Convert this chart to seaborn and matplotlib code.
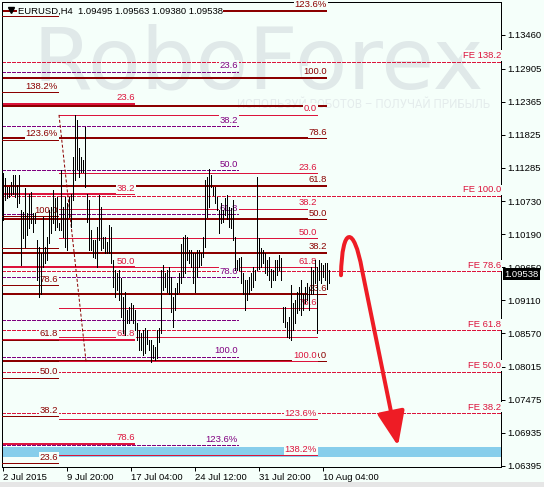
import pandas as pd
import seaborn as sns
import matplotlib.pyplot as plt
from matplotlib.path import Path
from matplotlib.patches import FancyArrowPatch, Rectangle

# H4 bars, 2 Jul 2015 12:00 onwards (high / low)
highs = [1.1120, 1.1111, 1.1096, 1.1096, 1.1105, 1.1116, 1.1116, 1.1100, 1.1116, 1.1059,
         1.1055, 1.1095, 1.1054, 1.1086, 1.1088, 1.1054, 1.1054, 1.1009, 1.0998, 1.0988,
         1.1047, 1.0998, 1.1014, 1.1059, 1.1064, 1.1091, 1.1078, 1.1080, 1.1037, 1.1124,
         1.1064, 1.1080, 1.1070, 1.1080, 1.1086, 1.1146, 1.1214, 1.1206, 1.1160, 1.1146,
         1.1141, 1.1195, 1.1086, 1.1075, 1.1026, 1.1009, 1.1009, 1.1031, 1.1083, 1.1064,
         1.1014, 1.1014, 1.1006, 1.1034, 1.1031, 1.0977, 1.0960, 1.0955, 1.0960, 1.0947,
         1.0916, 1.0924, 1.0895, 1.0900, 1.0906, 1.0903, 1.0895, 1.0873, 1.0862, 1.0857,
         1.0862, 1.0865, 1.0862, 1.0845, 1.0845, 1.0837, 1.0834, 1.0862, 1.0865, 1.0960,
         1.0968, 1.0955, 1.0960, 1.0965, 1.0949, 1.0916, 1.0931, 1.0939, 1.0955, 1.1004,
         1.1014, 1.1018, 1.1014, 1.0993, 1.0993, 1.0988, 1.0988, 1.0993, 1.0993, 1.0988,
         1.1014, 1.1108, 1.1113, 1.1127, 1.1116, 1.1096, 1.1096, 1.1080, 1.1059, 1.1070,
         1.1059, 1.1078, 1.1083, 1.1064, 1.1062, 1.1075, 1.1014, 1.0977, 1.0980, 1.0982,
         1.0955, 1.0944, 1.0944, 1.0949, 1.0955, 1.0965, 1.0960, 1.1113, 1.1013, 1.0996,
         1.0993, 1.0988, 1.0977, 1.0982, 1.0963, 1.0960, 1.0977, 1.0977, 1.0985, 1.0980,
         1.0900, 1.0900, 1.0875, 1.0883, 1.0936, 1.0906, 1.0911, 1.0924, 1.0932, 1.0944,
         1.0922, 1.0932, 1.0939, 1.0932, 1.0965, 1.0960, 1.0977, 1.0965, 1.0977, 1.0972,
         1.0968, 1.0972, 1.0972, 1.0960]
lows = [1.1042, 1.1075, 1.1078, 1.1080, 1.1083, 1.1086, 1.1080, 1.1064, 1.1070, 1.0969,
        1.1013, 1.0998, 1.1018, 1.1029, 1.1037, 1.1023, 1.1037, 1.0944, 1.0916, 1.0922,
        1.0965, 1.0972, 1.0977, 1.1005, 1.1021, 1.1037, 1.1026, 1.1031, 1.1026, 1.1026,
        1.1014, 1.0998, 1.0993, 1.1047, 1.1031, 1.1075, 1.1108, 1.1127, 1.1113, 1.1121,
        1.1121, 1.1096, 1.1039, 1.0993, 1.0993, 1.0982, 1.0980, 1.0965, 1.1009, 1.0993,
        1.0996, 1.0988, 1.0988, 1.0988, 1.0972, 1.0932, 1.0916, 1.0927, 1.0911, 1.0883,
        1.0857, 1.0854, 1.0873, 1.0873, 1.0878, 1.0873, 1.0862, 1.0845, 1.0829, 1.0829,
        1.0821, 1.0824, 1.0840, 1.0829, 1.0809, 1.0817, 1.0813, 1.0816, 1.0842, 1.0857,
        1.0927, 1.0932, 1.0924, 1.0922, 1.0891, 1.0867, 1.0895, 1.0922, 1.0924, 1.0939,
        1.0949, 1.0955, 1.0977, 1.0972, 1.0965, 1.0939, 1.0924, 1.0949, 1.0965, 1.0968,
        1.0982, 1.0998, 1.1047, 1.1064, 1.1096, 1.1083, 1.1070, 1.1059, 1.1021, 1.1037,
        1.1039, 1.1050, 1.1045, 1.1031, 1.1029, 1.1009, 1.0960, 1.0960, 1.0960, 1.0939,
        1.0922, 1.0895, 1.0911, 1.0922, 1.0927, 1.0932, 1.0944, 1.0960, 1.0963, 1.0965,
        1.0972, 1.0955, 1.0952, 1.0944, 1.0932, 1.0944, 1.0944, 1.0952, 1.0960, 1.0944,
        1.0875, 1.0867, 1.0850, 1.0849, 1.0845, 1.0862, 1.0873, 1.0890, 1.0895, 1.0886,
        1.0895, 1.0906, 1.0911, 1.0895, 1.0922, 1.0922, 1.0939, 1.0857, 1.0944, 1.0939,
        1.0949, 1.0944, 1.0929, 1.0939]

tick_bars = [0, 32, 64, 96, 128, 160]
tick_labels = ["2 Jul 2015", "9 Jul 20:00", "17 Jul 04:00", "24 Jul 12:00",
               "31 Jul 20:00", "10 Aug 04:00"]
price_ticks = [1.13460, 1.12905, 1.12365, 1.11825, 1.11285, 1.10730, 1.10190,
               1.09650, 1.09110, 1.08570, 1.08015, 1.07475, 1.06935, 1.06395]
header = "EURUSD,H4  1.09495 1.09563 1.09380 1.09538"
last_price = 1.09538

# fibonacci objects: price at 0 %, price at 100 %, levels and their captions
fib_a = (1.0518, 1.1049)
fib_a_levels = [161.8, 138.2, 123.6, 100.0, 90.0, 78.6, 61.8, 50.0, 38.2, 23.6]
fib_a_labels = ["", "138.2%", "123.6%", "100.0", "", "78.6", "61.8", "50.0", "38.2", "23.6"]

fib_b = (1.0811, 1.1276)
fib_b_levels = [123.6, 100.0, 90.0, 78.6, 61.8, 50.0, 38.2, 23.6, 0.0]
fib_b_labels = ["123.6%", "100.0", "", "78.6", "61.8", "50.0", "38.2", "23.6", "0.0"]

fib_c = (1.1215, 1.0811)
fib_c_levels = [0.0, 23.6, 38.2, 50.0, 61.8, 78.6, 90.0, 100.0, 123.6, 138.2]
fib_c_labels = ["0.0", "23.6", "38.2", "50.0", "61.8", "78.6", "", "100.0", "123.6%", "138.2%"]

fib_d = (1.1472, 1.0459)
fib_d_levels = [23.6, 38.2, 50.0, 61.8, 78.6]
fib_d_labels = ["23.6", "38.2", "50.0", "61.8", "78.6"]

fib_e = (1.1430, 1.0818)
fib_e_levels = [23.6, 38.2, 50.0, 61.8, 78.6, 90.0, 100.0, 123.6]
fib_e_labels = ["23.6", "38.2", "50.0", "61.8", "78.6", "", "100.0", "123.6%"]

fib_fe = (1.0506, 1.1082)
fe_levels = [138.2, 100.0, 78.6, 61.8, 50.0, 38.2]
fe_labels = ["FE 138.2", "FE 100.0", "FE 78.6", "FE 61.8", "FE 50.0", "FE 38.2"]

target_zone = (1.0654, 1.0670)
forecast = [(169, 1.0952), (169.5, 1.1034), (175.5, 1.1034), (179.5, 1.0961), (197.5, 1.0672)]

BG = "#F5FFFA"
DARKRED = "#8B0000"
CRIMSON = "#DC143C"
PURPLE = "#800080"
PX = 0.72  # points per pixel at 100 dpi
FS = 6.8

sns.set_theme(style="white", rc={"axes.facecolor": BG, "figure.facecolor": BG})
plt.rcParams["font.family"] = ["Liberation Sans", "DejaVu Sans"]

fig = plt.figure(figsize=(5.44, 4.87), dpi=100)
ax = fig.add_axes([2 / 544, 20 / 487, 499 / 544, 465 / 487])
ax.set_xlim(-0.5, 249)
ax.set_ylim(1.06375, 1.14001)

fig.patches.append(Rectangle((0, 0), 1, 5 / 487, transform=fig.transFigure,
                             facecolor="#E6E6E6", edgecolor="none"))

# watermark
ax.text(0.513, 0.815, "RoboForex", transform=ax.transAxes, ha="center", va="baseline",
        fontsize=62, family="DejaVu Sans", color="#E0E9E9", zorder=0.5)
ax.text(0.725, 0.772, "ИСПОЛЬЗУЙ РОБОТОВ – ПОЛУЧАЙ ПРИБЫЛЬ", transform=ax.transAxes,
        ha="center", va="baseline", fontsize=8.4, family="Roboto", color="#E4ECEC", zorder=0.5)

ax.fill_between([-0.5, 249], target_zone[0], target_zone[1], color="#87CEEB",
                linewidth=0, zorder=1)


def draw_fib(anchor, levels, labels, x0, x1, color, width, dash=None, z=2):
    p0, p100 = anchor
    for lv, lab in zip(levels, labels):
        price = p0 + (p100 - p0) * lv / 100.0
        line, = ax.plot([x0, x1], [price, price], color=color, lw=width * PX,
                        antialiased=False, zorder=z, solid_capstyle="butt")
        if dash:
            line.set_dashes(dash)
        if lab:
            ax.annotate(lab, xy=(x1, price), xytext=(0, 0.1 * FS + 0.4),
                        textcoords="offset points", ha="right", va="bottom",
                        fontsize=FS, color=color, zorder=3,
                        bbox=dict(boxstyle="square,pad=0.1", fc=BG, ec="none"))


draw_fib(fib_e, fib_e_levels, fib_e_labels, -0.5, 117.5, PURPLE, 1, dash=(3, 2))
draw_fib(fib_fe, fe_levels, fe_labels, -0.5, 249, CRIMSON, 1, dash=(4, 2))
draw_fib(fib_d, fib_d_levels, fib_d_labels, -0.5, 66, CRIMSON, 2)
draw_fib(fib_b, fib_b_levels, fib_b_labels, -0.5, 162, DARKRED, 2)
draw_fib(fib_a, fib_a_levels, fib_a_labels, -0.5, 27.5, DARKRED, 1, z=2.6)
draw_fib(fib_c, fib_c_levels, fib_c_labels, 28, 157, CRIMSON, 1)
diag, = ax.plot([28, 41.5], [fib_c[0], fib_c[1]], color=DARKRED, lw=PX, zorder=2)
diag.set_dashes((3, 2))

# price bars
bars = pd.DataFrame({
    "bar": list(range(len(highs))) * 2,
    "price": lows + highs,
})
sns.lineplot(data=bars, x="bar", y="price", units="bar", estimator=None, color="black",
             linewidth=0.7, antialiased=False, legend=False, ax=ax, zorder=4)

# forecast arrow
path = Path(forecast, [Path.MOVETO, Path.CURVE4, Path.CURVE4, Path.CURVE4, Path.LINETO])
ax.add_patch(FancyArrowPatch(path=path, arrowstyle="-|>,head_length=1.5,head_width=0.6",
                             mutation_scale=14, color="#EE1C25", lw=4 * PX,
                             shrinkA=0, shrinkB=0, zorder=5))

# header
ax.text(0.032, 0.975, header, transform=ax.transAxes, ha="left", va="baseline",
        fontsize=FS, color="black", zorder=2.5,
        bbox=dict(boxstyle="square,pad=0.05", fc=BG, ec="none"))
ax.plot([0.018], [0.982], marker="v", ms=4.5, color="black", transform=ax.transAxes,
        zorder=2.7, clip_on=False)

ax.set_xlabel("")
ax.set_ylabel("")
ax.set_xticks(tick_bars)
ax.set_xticklabels(tick_labels, ha="left")
ax.yaxis.tick_right()
ax.set_yticks(price_ticks)
ax.set_yticklabels([f"{p:.5f}" for p in price_ticks])
ax.tick_params(axis="both", labelsize=FS, colors="black", direction="out", width=PX,
               length=3, pad=1.5)
ax.tick_params(axis="x", bottom=True, pad=1)
ax.tick_params(axis="y", right=True, left=False)
for s in ax.spines.values():
    s.set_color("black")
    s.set_linewidth(PX)
ax.grid(False)

ax.annotate(f"{last_price:.5f}", xy=(1, last_price), xycoords=("axes fraction", "data"),
            xytext=(2.6, 0), textcoords="offset points", ha="left", va="center",
            fontsize=FS, color="white", annotation_clip=False,
            bbox=dict(boxstyle="square,pad=0.15", fc="black", ec="none"))

fig.savefig("out.png", dpi=100, facecolor=BG)
